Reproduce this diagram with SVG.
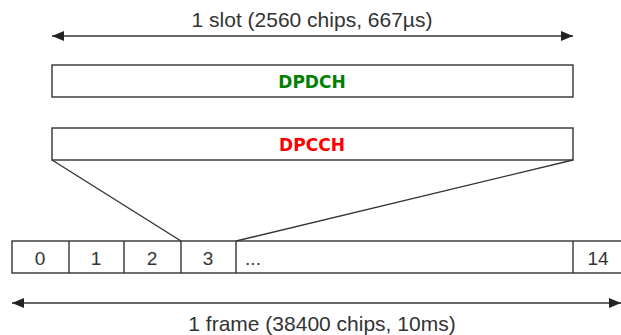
<svg xmlns="http://www.w3.org/2000/svg" width="621" height="335" viewBox="0 0 621 335">
  <style>
    .box { fill: #ffffff; stroke: #333333; stroke-width: 1.4; }
    .line { fill: none; stroke: #333333; stroke-width: 1.4; }
    .dim { fill: none; stroke: #333333; stroke-width: 1.4; marker-start: url(#head-start); marker-end: url(#head-end); }
    .lbl { font-family: "Liberation Sans", Arial, sans-serif; fill: #333333; text-anchor: middle; }
    .chan { font-family: "DejaVu Sans", Verdana, sans-serif; font-weight: bold; font-size: 17px; text-anchor: middle; }
  </style>
  <defs>
    <marker id="head-end" viewBox="0 0 12 10" refX="12" refY="5" markerWidth="12" markerHeight="10" markerUnits="userSpaceOnUse" orient="auto">
      <path d="M0,0 L12,5 L0,10 Z" fill="#222222"/>
    </marker>
    <marker id="head-start" viewBox="0 0 12 10" refX="0" refY="5" markerWidth="12" markerHeight="10" markerUnits="userSpaceOnUse" orient="auto">
      <path d="M12,0 L0,5 L12,10 Z" fill="#222222"/>
    </marker>
  </defs>

  <!-- slot length dimension -->
  <g id="slot-dimension">
    <line class="dim" x1="52" y1="36" x2="573" y2="36"/>
    <text class="lbl" x="312" y="27" font-size="21">1 slot (2560 chips, 667µs)</text>
  </g>

  <!-- data channel -->
  <g id="dpdch">
    <rect class="box" x="52" y="65" width="521" height="32"/>
    <text class="chan" x="312" y="88" fill="#008000">DPDCH</text>
  </g>

  <!-- control channel -->
  <g id="dpcch">
    <rect class="box" x="52" y="128" width="521" height="32"/>
    <text class="chan" x="312" y="151" fill="#ff0000">DPCCH</text>
  </g>

  <!-- expansion lines from slot 3 -->
  <g id="connectors">
    <line class="line" x1="52" y1="160" x2="181" y2="241"/>
    <line class="line" x1="573" y1="160" x2="236" y2="241"/>
  </g>

  <!-- frame of 15 slots -->
  <g id="frame">
    <rect class="box" x="12" y="241" width="620" height="32"/>
    <line class="line" x1="69" y1="241" x2="69" y2="273"/>
    <line class="line" x1="124" y1="241" x2="124" y2="273"/>
    <line class="line" x1="181" y1="241" x2="181" y2="273"/>
    <line class="line" x1="236" y1="241" x2="236" y2="273"/>
    <line class="line" x1="573" y1="241" x2="573" y2="273"/>
    <text class="lbl" x="40" y="265" font-size="19">0</text>
    <text class="lbl" x="96" y="265" font-size="19">1</text>
    <text class="lbl" x="152" y="265" font-size="19">2</text>
    <text class="lbl" x="208" y="265" font-size="19">3</text>
    <text class="lbl" x="253" y="265" font-size="19">...</text>
    <text class="lbl" x="598" y="265" font-size="19">14</text>
  </g>

  <!-- frame length dimension -->
  <g id="frame-dimension">
    <line class="dim" x1="12" y1="303" x2="621" y2="303"/>
    <text class="lbl" x="322" y="331" font-size="21">1 frame (38400 chips, 10ms)</text>
  </g>
</svg>
